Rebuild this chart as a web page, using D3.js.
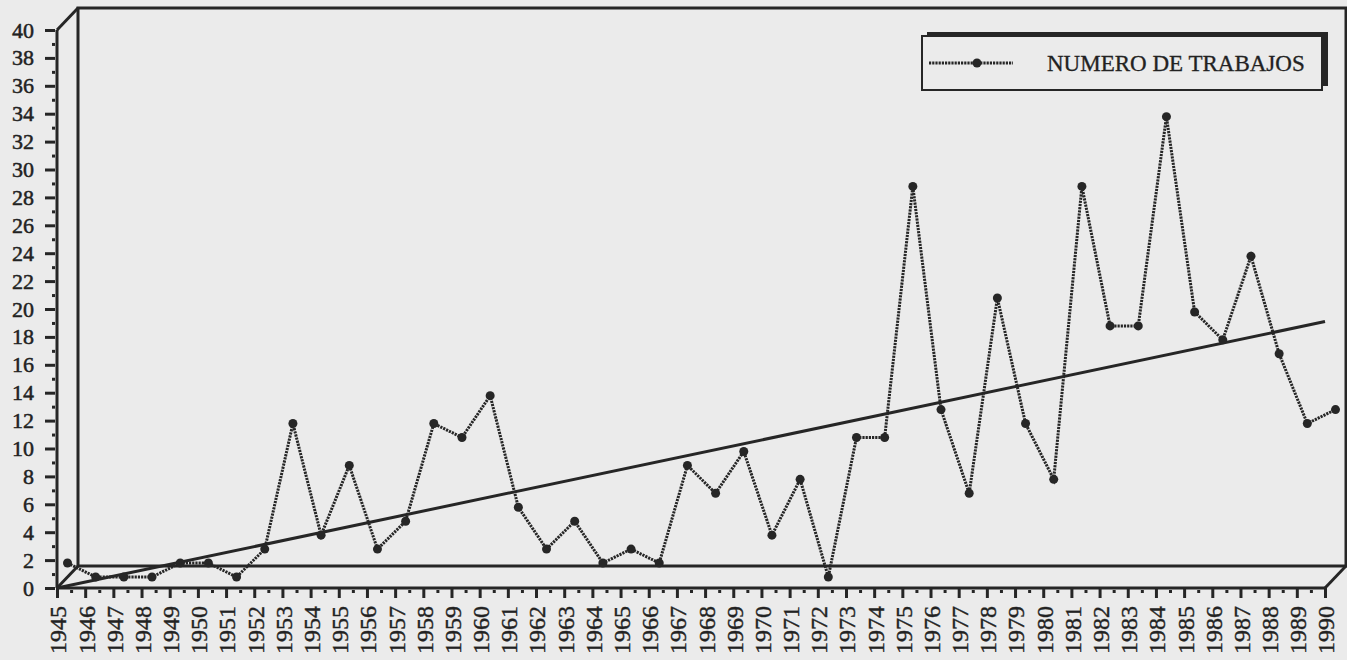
<!DOCTYPE html>
<html>
<head>
<meta charset="utf-8">
<script src="https://cdn.jsdelivr.net/npm/d3@7/dist/d3.min.js"></script>
<style>
  html, body { margin: 0; padding: 0; background: #ebebeb; }
  svg { display: block; }
</style>
</head>
<body>
<svg id="chart" width="1347" height="660"></svg>
<script>
// ---- data ----
const years = [1945,1946,1947,1948,1949,1950,1951,1952,1953,1954,1955,1956,1957,1958,1959,1960,
  1961,1962,1963,1964,1965,1966,1967,1968,1969,1970,1971,1972,1973,1974,1975,1976,1977,1978,1979,1980,
  1981,1982,1983,1984,1985,1986,1987,1988,1989,1990];
const trabajos = [1,0,0,0,1,1,0,2,11,3,8,2,4,11,10,13,
  5,2,4,1,2,1,8,6,9,3,7,0,10,10,28,12,6,20,11,7,
  28,18,18,33,19,17,23,16,11,12];
const trendYears = [1945, 1990];
const trendValues = [0, 19.1];
const yTicks = [0,2,4,6,8,10,12,14,16,18,20,22,24,26,28,30,32,34,36,38,40];
const yMinorTicks = [1,3,5,7,9,11,13,15,17,19,21,23,25,27,29,31,33,35,37,39];
const seriesName = "NUMERO DE TRABAJOS";

// ---- layout ----
const ink = "#262626";
const svg = d3.select("#chart");
const x = d3.scaleLinear().domain([1945, 1990]).range([57, 1325]);
const y = d3.scaleLinear().domain([0, 40]).range([588, 30]);
const depth = { dx: 21, dy: -22 };

// back wall / box frame
const x0 = x.range()[0], x1 = x.range()[1];
const yb = y(0), yt = y(40);
const frame = svg.append("g").attr("fill", "none").attr("stroke", ink).attr("stroke-width", 3);
frame.append("path").attr("d",
  `M${x0 + depth.dx},${yb + depth.dy} V${yt + depth.dy} H${x1 + depth.dx} V${yb + depth.dy} Z`);
frame.append("line").attr("x1", x0).attr("y1", yt).attr("x2", x0 + depth.dx).attr("y2", yt + depth.dy);
frame.append("line").attr("x1", x0).attr("y1", yb).attr("x2", x0 + depth.dx).attr("y2", yb + depth.dy);
frame.append("line").attr("x1", x1).attr("y1", yb).attr("x2", x1 + depth.dx).attr("y2", yb + depth.dy);

// ---- y axis ----
const yAxis = d3.axisLeft(y).tickValues(yTicks).tickSize(12).tickPadding(11);
const gy = svg.append("g").attr("transform", `translate(${x0},0)`).call(yAxis);
gy.select(".domain").attr("stroke", ink).attr("stroke-width", 3).attr("d", `M0,${yb}V${yt}`);
gy.selectAll(".tick line").attr("stroke", ink).attr("stroke-width", 3).attr("x1", -2);
gy.selectAll(".tick text")
  .attr("font-family", "'Liberation Serif', serif")
  .attr("font-size", 22)
  .attr("fill", "#222")
  .attr("stroke", "#222").attr("stroke-width", 0.5);
const yMinor = d3.axisLeft(y).tickValues(yMinorTicks).tickSize(6).tickFormat("");
const gym = svg.append("g").attr("transform", `translate(${x0},0)`).call(yMinor);
gym.select(".domain").remove();
gym.selectAll(".tick line").attr("stroke", ink).attr("stroke-width", 3).attr("stroke-dasharray", "3,10").attr("x1", -2);

// ---- x axis ----
const xAxis = d3.axisBottom(x).tickValues(years).tickFormat(d3.format("d")).tickSize(10).tickPadding(6);
const gx = svg.append("g").attr("transform", `translate(0,${yb})`).call(xAxis);
gx.select(".domain").attr("stroke", ink).attr("stroke-width", 3).attr("d", `M${x0},0H${x1}`);
gx.selectAll(".tick line").attr("stroke", ink).attr("stroke-width", 3);
gx.selectAll(".tick text")
  .attr("font-family", "'Liberation Serif', serif")
  .attr("font-size", 24)
  .attr("fill", "#222")
  .attr("stroke", "#222").attr("stroke-width", 0.4)
  .attr("text-anchor", "end")
  .attr("dy", "0.33em")
  .attr("transform", "translate(1,18) rotate(-90)")
  .attr("x", 0).attr("y", 0);
const xMinorVals = years.slice(0, -1).map(d => d + 0.5);
const xMinor = d3.axisBottom(x).tickValues(xMinorVals).tickSize(5).tickFormat("");
const gxm = svg.append("g").attr("transform", `translate(0,${yb})`).call(xMinor);
gxm.select(".domain").remove();
gxm.selectAll(".tick line").attr("stroke", ink).attr("stroke-width", 3).attr("y1", 2);

// ---- trend line ----
const trend = trendYears.map((d, i) => [d, trendValues[i]]);
svg.append("path")
  .datum(trend)
  .attr("fill", "none").attr("stroke", ink).attr("stroke-width", 3)
  .attr("d", d3.line().x(d => x(d[0])).y(d => y(d[1])));

// ---- data series (drawn at mid depth) ----
const mx = d => x(d) + depth.dx / 2;
const my = v => y(v) + depth.dy / 2;
const pts = years.map((d, i) => [d, trabajos[i]]);
svg.append("path")
  .datum(pts)
  .attr("fill", "none").attr("stroke", ink).attr("stroke-width", 3)
  .attr("stroke-dasharray", "2.2,1")
  .attr("d", d3.line().x(d => mx(d[0])).y(d => my(d[1])));
svg.append("g").selectAll("circle").data(pts).join("circle")
  .attr("cx", d => mx(d[0])).attr("cy", d => my(d[1])).attr("r", 4.5).attr("fill", ink);

// ---- legend ----
const lg = svg.append("g");
lg.append("rect").attr("x", 927).attr("y", 32).attr("width", 401).attr("height", 54).attr("fill", ink);
lg.append("rect").attr("x", 922).attr("y", 36).attr("width", 400).attr("height", 54)
  .attr("fill", "#ebebeb").attr("stroke", ink).attr("stroke-width", 2);
lg.append("line").attr("x1", 929).attr("x2", 1013).attr("y1", 63).attr("y2", 63)
  .attr("stroke", ink).attr("stroke-width", 3).attr("stroke-dasharray", "2.2,1");
lg.append("circle").attr("cx", 977).attr("cy", 63).attr("r", 4.5).attr("fill", ink);
lg.append("text").attr("x", 1047).attr("y", 71)
  .attr("font-family", "'Liberation Serif', serif").attr("font-size", 23).attr("fill", "#222")
  .attr("stroke", "#222").attr("stroke-width", 0.3)
  .text(seriesName);
</script>
</body>
</html>
